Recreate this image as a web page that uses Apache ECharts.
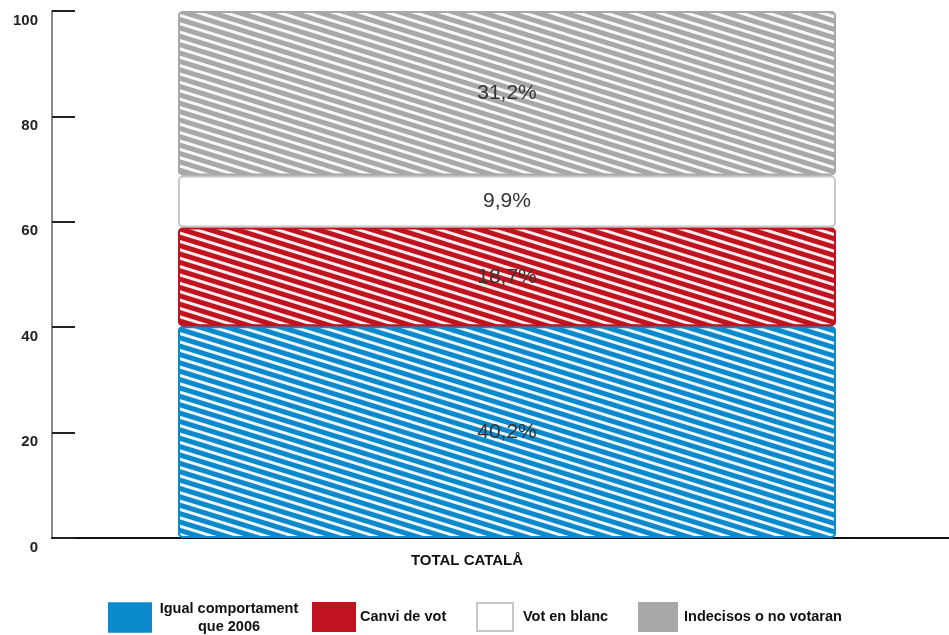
<!DOCTYPE html>
<html>
<head>
<meta charset="utf-8">
<script src="https://cdn.jsdelivr.net/npm/echarts@6/dist/echarts.min.js"></script>
<style>
  html, body { margin: 0; padding: 0; background: #fff; }
  #chart { width: 949px; height: 635px; }
</style>
</head>
<body>
<div id="chart"></div>
<script>
const categories = ['TOTAL CATALÅ'];
const igual = [40.2];
const canvi = [18.7];
const blanc = [9.9];
const indecisos = [31.2];
const yTicks = [0, 20, 40, 60, 80, 100];

const FONT = '"Liberation Sans", Arial, sans-serif';

const hatch = (c) => ({
  symbol: 'rect',
  symbolSize: 1,
  color: c,
  dashArrayX: [1, 0],
  dashArrayY: [2.5, 4.5],
  rotation: 0.3
});

const pct = (p) => p.value.toFixed(1).replace('.', ',') + '%';

const makeSeries = (name, data, color, border, decal) => {
  const itemStyle = { color: color, borderColor: border, borderWidth: 2, borderRadius: 4 };
  if (decal) itemStyle.decal = decal;
  return {
    name: name,
    type: 'bar',
    stack: 'total',
    data: data,
    barWidth: 658,
    itemStyle: itemStyle,
    label: {
      show: true,
      position: 'inside',
      formatter: pct,
      fontFamily: FONT,
      fontSize: 21,
      color: '#333'
    }
  };
};

const legendText = { fontFamily: FONT, fontSize: 14.5, fontWeight: 'bold', color: '#111', padding: [0, 0, 0, 4] };
const padText = (p) => Object.assign({}, legendText, { padding: [0, 0, 0, p] });

const legendAt = (name, left, extra) => Object.assign({
  data: [name],
  left: left,
  top: 602,
  padding: 0,
  orient: 'horizontal',
  icon: 'rect',
  itemWidth: 42,
  itemHeight: 28,
  selectedMode: false,
  itemStyle: { decal: { color: 'rgba(0,0,0,0)' } },
  textStyle: legendText
}, extra || {});

const chart = echarts.init(document.getElementById('chart'));
chart.setOption({
  animation: false,
  backgroundColor: '#fff',
  grid: { left: 52, width: 910, top: 11, bottom: 97, containLabel: false, outerBoundsMode: 'none' },
  xAxis: {
    type: 'category',
    data: categories,
    axisLine: { lineStyle: { color: '#111', width: 2 } },
    axisTick: { show: false },
    axisLabel: {
      margin: 15,
      fontFamily: FONT,
      fontSize: 15,
      fontWeight: 'bold',
      color: '#111',
      padding: [0, 80, 0, 0]
    }
  },
  yAxis: {
    type: 'value',
    min: yTicks[0],
    max: yTicks[yTicks.length - 1],
    interval: 20,
    splitLine: { show: false },
    axisLine: { show: true, lineStyle: { color: '#888', width: 2 } },
    axisTick: { show: true, inside: true, length: 23, lineStyle: { color: '#222', width: 2 } },
    axisLabel: {
      margin: 14,
      fontFamily: FONT,
      fontSize: 15,
      fontWeight: 'bold',
      color: '#222',
      verticalAlign: 'top',
      padding: [2, 0, 0, 0]
    }
  },
  legend: [
    legendAt('Igual comportament que 2006', 108, {
      top: 601,
      formatter: () => '{a|Igual comportament}\n{a|que 2006}',
      textStyle: Object.assign({}, legendText, {
        padding: [0, 0, 0, 2],
        rich: { a: { width: 142, align: 'center', fontFamily: FONT, fontSize: 14.5, fontWeight: 'bold', color: '#111', lineHeight: 18 } }
      })
    }),
    legendAt('Canvi de vot', 312, { textStyle: padText(0) }),
    legendAt('Vot en blanc', 476, { itemWidth: 36, textStyle: padText(5) }),
    legendAt('Indecisos o no votaran', 638, { itemWidth: 38, textStyle: padText(2) })
  ],
  series: [
    makeSeries('Igual comportament que 2006', igual, '#0a8acd', '#0a8acd', hatch('rgba(255,255,255,0.92)')),
    makeSeries('Canvi de vot', canvi, '#c1121f', '#c1121f', hatch('rgba(255,255,255,0.92)')),
    makeSeries('Vot en blanc', blanc, '#ffffff', '#c8c8c8', null),
    makeSeries('Indecisos o no votaran', indecisos, '#a8a8a8', '#a8a8a8', hatch('rgba(255,255,255,0.92)'))
  ]
});
</script>
</body>
</html>
